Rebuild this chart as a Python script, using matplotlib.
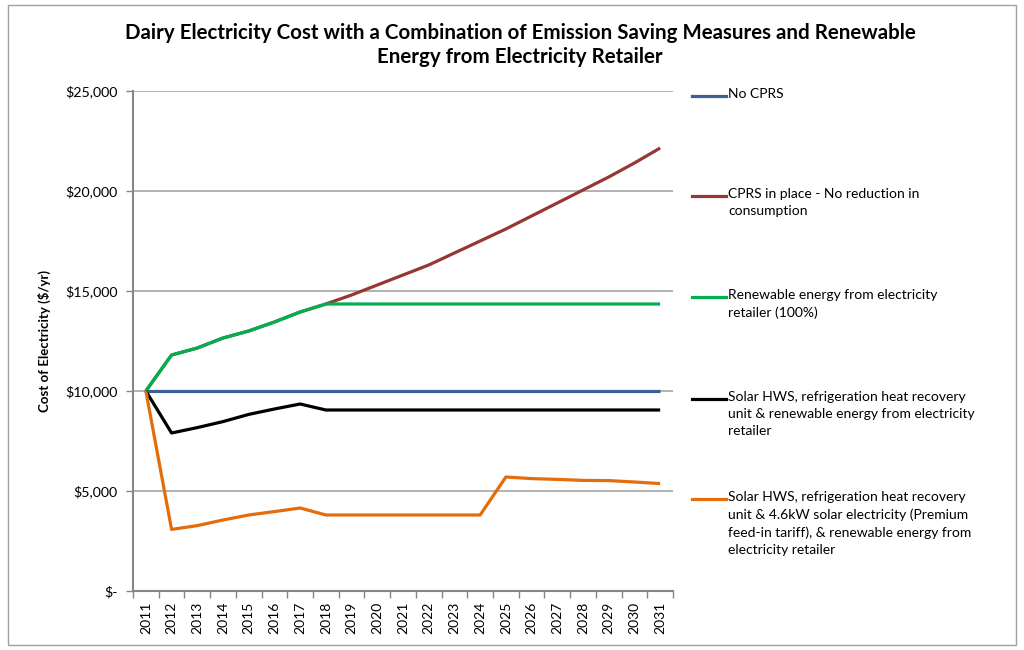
import matplotlib.pyplot as plt
from matplotlib.lines import Line2D
from matplotlib.patches import Rectangle
from matplotlib.ticker import FixedLocator, FuncFormatter

plt.rcParams['font.family'] = ['Lato', 'DejaVu Sans']

years = [str(y) for y in range(2011, 2032)]

no_cprs = [10000] * 21
cprs = [10000, 11800, 12150, 12650, 13000, 13450, 13950, 14350, 14800, 15300,
        15800, 16300, 16900, 17500, 18100, 18750, 19400, 20050, 20700, 21400, 22150]
renewable = [10000, 11800, 12150, 12650, 13000, 13450, 13950, 14350, 14350, 14350,
             14350, 14350, 14350, 14350, 14350, 14350, 14350, 14350, 14350, 14350, 14350]
solar_hws = [10000, 7900, 8170, 8470, 8830, 9100, 9350, 9050, 9050, 9050,
             9050, 9050, 9050, 9050, 9050, 9050, 9050, 9050, 9050, 9050, 9050]
solar_pv = [10000, 3080, 3270, 3550, 3800, 3970, 4150, 3800, 3800, 3800,
            3800, 3800, 3800, 3800, 5700, 5620, 5580, 5530, 5520, 5450, 5370]

series = [
    (no_cprs, '#3D5E96', "No CPRS"),
    (cprs, '#953735', "CPRS in place - No reduction in\nconsumption"),
    (renewable, '#00B050', "Renewable energy from electricity\nretailer (100%)"),
    (solar_hws, '#000000', "Solar HWS, refrigeration heat recovery\n"
                           "unit & renewable energy from electricity\nretailer"),
    (solar_pv, '#E46C0A', "Solar HWS, refrigeration heat recovery\n"
                          "unit & 4.6kW solar electricity (Premium\n"
                          "feed-in tariff), & renewable energy from\n"
                          "electricity retailer"),
]

fig = plt.figure(figsize=(10.24, 6.5), dpi=100)
ax = fig.add_axes([133 / 1024, 1 - 591 / 650, 540 / 1024, 500 / 650])

x = list(range(len(years)))
for values, color, label in series:
    ax.plot(x, values, color=color, lw=2.3, solid_capstyle='butt', zorder=3)

ax.set_xlim(-0.5, len(years) - 0.5)
ax.set_ylim(0, 25000)
ax.set_yticks(range(0, 25001, 5000))
ax.yaxis.set_major_formatter(FuncFormatter(lambda v, p: "$-" if v == 0 else f"${v:,.0f}"))
ax.set_xticks(x)
ax.set_xticklabels(years, rotation=90)
ax.xaxis.set_minor_locator(FixedLocator([i - 0.5 for i in range(len(years) + 1)]))
ax.tick_params(axis='x', which='major', length=0, pad=8, labelsize=10)
ax.tick_params(axis='x', which='minor', length=5, color='#868686', width=1)
ax.tick_params(axis='y', length=5, color='#868686', width=1, labelsize=10.3, pad=6)
ax.grid(axis='y', color='#A6A6A6', lw=1.2)
ax.set_axisbelow(True)
for side in ('top', 'right'):
    ax.spines[side].set_visible(False)
for side in ('left', 'bottom'):
    ax.spines[side].set_color('#868686')
    ax.spines[side].set_linewidth(1.5)

ax.set_ylabel("Cost of Electricity ($/yr)", fontsize=9.5, fontweight='bold', labelpad=10)

fig.text(0.508, 0.931, "Dairy Electricity Cost with a Combination of Emission Saving Measures and Renewable\n"
                       "Energy from Electricity Retailer",
         ha='center', va='center', fontsize=14.8, fontweight='bold', linespacing=1.25)

# legend entries stacked down the right-hand side
legend_tops = [96, 196, 297, 399, 499]
for (values, color, label), ytop in zip(series, legend_tops):
    yf = 1 - ytop / 650
    fig.add_artist(Line2D([692 / 1024, 726 / 1024], [yf, yf], color=color, lw=2.3,
                          transform=fig.transFigure))
    fig.text(728 / 1024, yf + 8 / 650, label, ha='left', va='top', fontsize=10, linespacing=1.5)

fig.add_artist(Rectangle((8 / 1024, 5 / 650), 1008 / 1024, 640 / 650, transform=fig.transFigure,
                         fill=False, edgecolor='#A0A0A0', lw=1))

fig.savefig("out.png", dpi=100)
